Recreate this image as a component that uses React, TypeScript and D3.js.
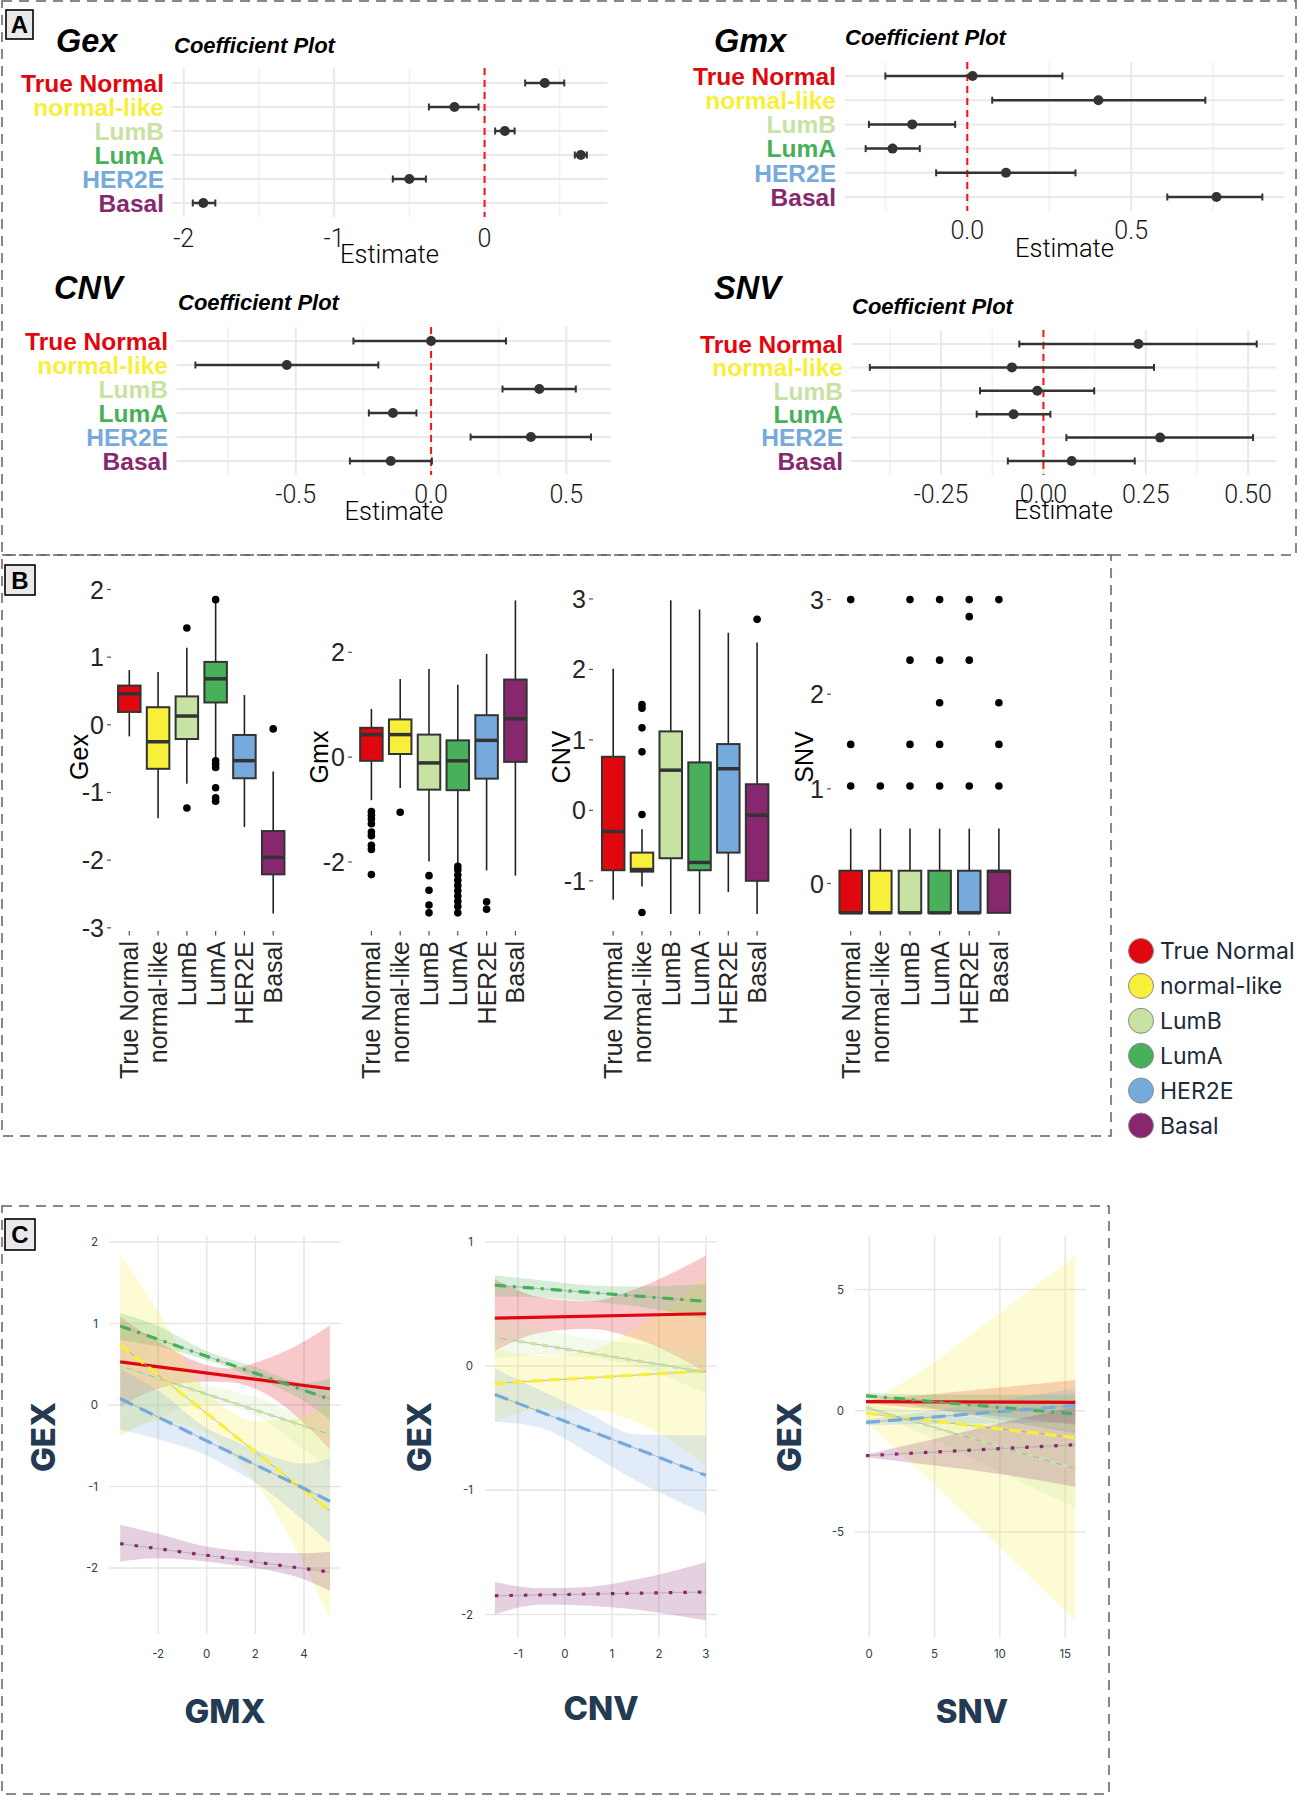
import React from 'react';
import * as d3 from 'd3';

const SUBTYPES = ['True Normal', 'normal-like', 'LumB', 'LumA', 'HER2E', 'Basal'];
const SUBTYPE_COLORS = ['#e0070f', '#f7ef3a', '#c8e2a4', '#48b05a', '#76aadd', '#87286e'];

// Panel A: coefficient per subtype, [estimate, lower, upper]
const COEF_GEX = [[0.40, 0.27, 0.53], [-0.20, -0.37, -0.04], [0.135, 0.07, 0.20], [0.64, 0.60, 0.68], [-0.50, -0.61, -0.39], [-1.87, -1.94, -1.79]];
const COEF_GMX = [[0.016, -0.25, 0.29], [0.40, 0.076, 0.726], [-0.168, -0.30, -0.037], [-0.228, -0.31, -0.145], [0.118, -0.095, 0.33], [0.76, 0.61, 0.90]];
const COEF_CNV = [[0.0, -0.287, 0.277], [-0.533, -0.871, -0.195], [0.40, 0.264, 0.535], [-0.141, -0.23, -0.054], [0.369, 0.146, 0.591], [-0.149, -0.30, 0.003]];
const COEF_SNV = [[0.232, -0.059, 0.521], [-0.077, -0.424, 0.27], [-0.015, -0.155, 0.124], [-0.073, -0.163, 0.017], [0.285, 0.056, 0.512], [0.069, -0.087, 0.223]];

const TICKS_A_GEX = [-2, -1, 0];
const LABELS_A_GEX = ['-2', '-1', '0'];
const MINOR_A_GEX = [-1.5, -0.5, 0.5];
const TICKS_A_GMX = [0, 0.5];
const LABELS_A_GMX = ['0.0', '0.5'];
const MINOR_A_GMX = [-0.25, 0.25, 0.75];
const TICKS_A_CNV = [-0.5, 0, 0.5];
const LABELS_A_CNV = ['-0.5', '0.0', '0.5'];
const MINOR_A_CNV = [-0.75, -0.25, 0.25];
const TICKS_A_SNV = [-0.25, 0, 0.25, 0.5];
const LABELS_A_SNV = ['-0.25', '0.00', '0.25', '0.50'];
const MINOR_A_SNV = [-0.375, -0.125, 0.125, 0.375];

// Panel B: [lower whisker, q1, median, q3, upper whisker]
const BOX_GEX = [[-0.17, 0.19, 0.46, 0.58, 0.81], [-1.38, -0.65, -0.25, 0.26, 0.78], [-0.87, -0.21, 0.13, 0.42, 1.14], [-0.50, 0.33, 0.68, 0.93, 1.83], [-1.51, -0.79, -0.53, -0.15, 0.44], [-2.79, -2.21, -1.96, -1.57, -0.69]];
const OUT_GEX = [[], [], [1.43, -1.23], [1.85, -0.53, -0.58, -0.63, -0.93, -1.08, -1.13], [], [-0.06]];
const BOX_GMX = [[-0.82, -0.07, 0.43, 0.56, 0.92], [-0.59, 0.06, 0.43, 0.72, 1.49], [-1.99, -0.62, -0.11, 0.43, 1.68], [-2.04, -0.63, -0.07, 0.32, 1.38], [-2.16, -0.41, 0.32, 0.80, 1.97], [-2.26, -0.09, 0.73, 1.48, 2.99]];
const OUT_GMX = [[-1.04, -1.11, -1.18, -1.27, -1.43, -1.5, -1.68, -1.76, -2.24], [-1.05], [-2.26, -2.54, -2.82, -2.97], [-2.08, -2.15, -2.25, -2.35, -2.45, -2.55, -2.65, -2.75, -2.85, -2.97], [-2.76, -2.9], []];
const BOX_CNV = [[-1.27, -0.85, -0.30, 0.76, 2.01], [-1.08, -0.87, -0.84, -0.60, -0.27], [-1.47, -0.68, 0.57, 1.12, 2.98], [-1.47, -0.85, -0.74, 0.68, 2.85], [-1.16, -0.60, 0.59, 0.94, 2.52], [-1.47, -1.00, -0.07, 0.37, 2.38]];
const OUT_CNV = [[], [1.5, 1.45, 1.17, 0.83, -0.06, -1.45], [], [], [], [2.71]];
const BOX_SNV = [[-0.31, -0.31, -0.31, 0.135, 0.58], [-0.31, -0.31, -0.31, 0.135, 0.58], [-0.31, -0.31, -0.31, 0.135, 0.58], [-0.31, -0.31, -0.31, 0.135, 0.58], [-0.31, -0.31, -0.31, 0.135, 0.58], [-0.31, -0.31, 0.127, 0.135, 0.58]];
const OUT_SNV = [[3.0, 1.47, 1.03], [1.03], [3.0, 2.36, 1.47, 1.03], [3.0, 2.36, 1.91, 1.47, 1.03], [3.0, 2.82, 2.36, 1.03], [3.0, 1.91, 1.47, 1.03]];

const TICKS_B_GEX = [-3, -2, -1, 0, 1, 2];
const TICKS_B_GMX = [-2, 0, 2];
const TICKS_B_CNV = [-1, 0, 1, 2, 3];
const TICKS_B_SNV = [0, 1, 2, 3];

// Panel C: fitted lines [value at start, value at end] and confidence bands
const GMX_X = [-3.56, 5.07];
const GMX_FIT = [[0.53, 0.20], [0.74, -1.30], [0.48, -0.36], [0.97, 0.07], [0.08, -1.18], [-1.70, -2.05]];
const GMX_BAND_X = [-3.56, -2, 0, 1, 2, 4, 5.07];
const GMX_LOW = [
  [-0.02, 0.20, 0.29, 0.28, 0.20, -0.22, -0.55],
  [-0.38, -0.20, -0.35, -0.60, -0.95, -1.95, -2.62],
  [-0.38, -0.15, 0.02, -0.02, -0.12, -0.55, -0.78],
  [0.80, 0.72, 0.55, 0.45, 0.33, 0.05, -0.18],
  [-0.30, -0.42, -0.62, -0.78, -0.95, -1.42, -1.70],
  [-1.92, -1.88, -1.92, -1.96, -2.00, -2.14, -2.28],
];
const GMX_HIGH = [
  [1.08, 0.78, 0.49, 0.45, 0.52, 0.78, 0.98],
  [1.86, 1.15, 0.15, -0.08, -0.20, -0.15, 0.02],
  [1.05, 0.65, 0.25, 0.18, 0.10, -0.10, 0.05],
  [1.13, 0.97, 0.66, 0.56, 0.47, 0.27, 0.33],
  [0.45, 0.18, -0.28, -0.42, -0.55, -0.72, -0.66],
  [-1.47, -1.58, -1.74, -1.78, -1.80, -1.82, -1.80],
];
const CNV_X = [-1.49, 3.0];
const CNV_FIT = [[0.385, 0.42], [-0.14, -0.04], [0.23, -0.05], [0.65, 0.52], [-0.23, -0.88], [-1.85, -1.82]];
const CNV_BAND_X = [-1.49, -0.5, 0.5, 1.5, 3.0];
const CNV_LOW = [
  [0.12, 0.27, 0.30, 0.22, -0.05],
  [-0.45, -0.35, -0.35, -0.45, -0.80],
  [0.06, 0.09, 0.07, 0.00, -0.22],
  [0.56, 0.55, 0.52, 0.48, 0.38],
  [-0.45, -0.50, -0.70, -0.92, -1.19],
  [-2.00, -1.92, -1.93, -1.96, -2.05],
];
const CNV_HIGH = [
  [0.70, 0.55, 0.52, 0.62, 0.89],
  [0.14, 0.08, 0.12, 0.30, 0.72],
  [0.40, 0.30, 0.22, 0.18, 0.12],
  [0.73, 0.69, 0.65, 0.64, 0.66],
  [-0.02, -0.20, -0.38, -0.55, -0.56],
  [-1.74, -1.79, -1.78, -1.72, -1.58],
];
const SNV_X = [-0.25, 15.77];
const SNV_FIT = [[0.38, 0.35], [-0.10, -1.11], [0.14, -2.39], [0.62, -0.13], [-0.48, 0.22], [-1.85, -1.40]];
const SNV_BAND_X = [-0.25, 5, 10, 15.77];
const SNV_LOW = [
  [0.30, 0.05, -0.24, -0.57],
  [-0.45, -3.04, -5.64, -8.65],
  [0.08, -1.20, -2.52, -4.00],
  [0.53, 0.10, -0.38, -0.93],
  [-0.60, -0.53, -0.52, -0.48],
  [-1.92, -2.26, -2.61, -3.13],
];
const SNV_HIGH = [
  [0.46, 0.69, 0.96, 1.27],
  [0.25, 2.02, 4.04, 6.40],
  [0.28, -0.10, -0.42, -0.80],
  [0.73, 0.66, 0.66, 0.67],
  [-0.36, 0.01, 0.44, 0.92],
  [-1.80, -1.16, -0.51, 0.17],
];
const LINE_DASH = ['', '12,6', '6,6', '11,7,3,7', '14,8', '3.5,11'];

const SANS = '"Liberation Sans", Arial, sans-serif';
const NAVY = '#233a52';

type CoefCfg = {
  name: string; data: number[][]; nameX: number; nameY: number; titleX: number; titleY: number;
  left: number; right: number; domain: [number, number]; rows: [number, number]; grid: [number, number];
  labelX: number; ticks: number[]; labels: string[]; minor: number[]; tickY: number; estY: number;
};

const COEF_LAYOUT: CoefCfg[] = [
  { name: 'Gex', data: COEF_GEX, nameX: 56, nameY: 52, titleX: 174, titleY: 53, left: 172, right: 607, domain: [-2.078, 0.814], rows: [83, 203], grid: [68, 217], labelX: 164, ticks: TICKS_A_GEX, labels: LABELS_A_GEX, minor: MINOR_A_GEX, tickY: 247, estY: 263 },
  { name: 'Gmx', data: COEF_GMX, nameX: 714, nameY: 52, titleX: 845, titleY: 45, left: 845, right: 1284, domain: [-0.373, 0.966], rows: [76, 197], grid: [62, 211], labelX: 836, ticks: TICKS_A_GMX, labels: LABELS_A_GMX, minor: MINOR_A_GMX, tickY: 239, estY: 257 },
  { name: 'CNV', data: COEF_CNV, nameX: 54, nameY: 299, titleX: 178, titleY: 310, left: 177, right: 611, domain: [-0.939, 0.665], rows: [341, 461], grid: [327, 475], labelX: 168, ticks: TICKS_A_CNV, labels: LABELS_A_CNV, minor: MINOR_A_CNV, tickY: 503, estY: 520 },
  { name: 'SNV', data: COEF_SNV, nameX: 714, nameY: 299, titleX: 852, titleY: 314, left: 851, right: 1276, domain: [-0.47, 0.568], rows: [344, 461], grid: [330, 475], labelX: 843, ticks: TICKS_A_SNV, labels: LABELS_A_SNV, minor: MINOR_A_SNV, tickY: 503, estY: 519 },
];

const CoefPlot: React.FC<{ cfg: CoefCfg }> = ({ cfg }) => {
  const x = d3.scaleLinear().domain(cfg.domain).range([cfg.left, cfg.right]);
  const y = d3.scalePoint<string>().domain(SUBTYPES).range(cfg.rows);
  const [g0, g1] = cfg.grid;
  return (
    <g>
      {cfg.minor.map(v => (
        <line key={'m' + v} x1={x(v)} x2={x(v)} y1={g0} y2={g1} stroke="#f1f1f1" strokeWidth={1.5} />
      ))}
      {cfg.ticks.map(v => (
        <line key={'t' + v} x1={x(v)} x2={x(v)} y1={g0} y2={g1} stroke="#e9e9e9" strokeWidth={2} />
      ))}
      {SUBTYPES.map(s => (
        <line key={'h' + s} x1={cfg.left} x2={cfg.right} y1={y(s)} y2={y(s)} stroke="#e9e9e9" strokeWidth={2} />
      ))}
      <line x1={x(0)} x2={x(0)} y1={g0} y2={g1} stroke="#ff1010" strokeWidth={2} strokeDasharray="7,5" />
      {cfg.data.map((d, i) => {
        const yy = y(SUBTYPES[i]) as number;
        return (
          <g key={i}>
            <line x1={x(d[1])} x2={x(d[2])} y1={yy} y2={yy} stroke="#333" strokeWidth={2.5} />
            <line x1={x(d[1])} x2={x(d[1])} y1={yy - 3.5} y2={yy + 3.5} stroke="#333" strokeWidth={2} />
            <line x1={x(d[2])} x2={x(d[2])} y1={yy - 3.5} y2={yy + 3.5} stroke="#333" strokeWidth={2} />
            <circle cx={x(d[0])} cy={yy} r={5} fill="#333" />
          </g>
        );
      })}
      {SUBTYPES.map((s, i) => (
        <text key={'l' + s} x={cfg.labelX} y={y(s)} dy="0.36em" textAnchor="end" fontFamily={SANS}
          fontWeight="bold" fontSize={24.5} fill={SUBTYPE_COLORS[i]}>{s}</text>
      ))}
      {cfg.ticks.map((v, i) => (
        <text key={'tl' + v} x={x(v)} y={cfg.tickY} textAnchor="middle" fontFamily="Roboto, sans-serif"
          fontWeight={300} fontSize={25} fill="#1a1a1a">{cfg.labels[i]}</text>
      ))}
      <text x={(cfg.left + cfg.right) / 2} y={cfg.estY} textAnchor="middle" fontFamily="Roboto, sans-serif"
        fontWeight={300} fontSize={25.5} fill="#000">Estimate</text>
      <text x={cfg.nameX} y={cfg.nameY} fontFamily={SANS} fontWeight="bold" fontStyle="italic" fontSize={32.5} fill="#000">{cfg.name}</text>
      <text x={cfg.titleX} y={cfg.titleY} fontFamily={SANS} fontWeight="bold" fontStyle="italic" fontSize={22} fill="#000">Coefficient Plot</text>
    </g>
  );
};

type BoxCfg = {
  name: string; boxes: number[][]; outliers: number[][]; ticks: number[];
  yDomain: [number, number]; yRange: [number, number]; xRange: [number, number];
  tickRight: number; ylabelX: number;
};

const BOX_LAYOUT: BoxCfg[] = [
  { name: 'Gex', boxes: BOX_GEX, outliers: OUT_GEX, ticks: TICKS_B_GEX, yDomain: [-3, 2], yRange: [927.8, 589.5], xRange: [129.3, 273.2], tickRight: 104, ylabelX: 87.5 },
  { name: 'Gmx', boxes: BOX_GMX, outliers: OUT_GMX, ticks: TICKS_B_GMX, yDomain: [-2, 2], yRange: [862, 652.3], xRange: [371.4, 515.4], tickRight: 345, ylabelX: 328 },
  { name: 'CNV', boxes: BOX_CNV, outliers: OUT_CNV, ticks: TICKS_B_CNV, yDomain: [-1, 3], yRange: [880.8, 598.9], xRange: [613.2, 757.1], tickRight: 586, ylabelX: 570 },
  { name: 'SNV', boxes: BOX_SNV, outliers: OUT_SNV, ticks: TICKS_B_SNV, yDomain: [0, 3], yRange: [883.5, 599.6], xRange: [850.7, 998.9], tickRight: 824, ylabelX: 813 },
];

const BoxPlot: React.FC<{ cfg: BoxCfg }> = ({ cfg }) => {
  const y = d3.scaleLinear().domain(cfg.yDomain).range(cfg.yRange);
  const x = d3.scalePoint<string>().domain(SUBTYPES).range(cfg.xRange);
  const bw = 22.5;
  return (
    <g>
      {cfg.ticks.map(v => (
        <g key={'t' + v}>
          <text x={cfg.tickRight} y={y(v)} dy="0.36em" textAnchor="end" fontFamily={SANS} fontSize={25} fill="#262626">{v}</text>
          <line x1={cfg.tickRight + 3} x2={cfg.tickRight + 7} y1={y(v)} y2={y(v)} stroke="#555" strokeWidth={1.2} />
        </g>
      ))}
      {cfg.boxes.map((b, i) => {
        const cx = x(SUBTYPES[i]) as number;
        return (
          <g key={i}>
            <line x1={cx} x2={cx} y1={y(b[3])} y2={y(b[4])} stroke="#222" strokeWidth={1.6} />
            <line x1={cx} x2={cx} y1={y(b[1])} y2={y(b[0])} stroke="#222" strokeWidth={1.6} />
            <rect x={cx - bw / 2} y={y(b[3])} width={bw} height={Math.max(0.5, y(b[1]) - y(b[3]))}
              fill={SUBTYPE_COLORS[i]} stroke="#333" strokeWidth={2} />
            <line x1={cx - bw / 2} x2={cx + bw / 2} y1={y(b[2])} y2={y(b[2])} stroke="#333" strokeWidth={3.5} />
            {cfg.outliers[i].map((o, j) => (
              <circle key={j} cx={cx} cy={y(o)} r={3.8} fill="#000" />
            ))}
            <line x1={cx} x2={cx} y1={931} y2={935.5} stroke="#555" strokeWidth={1.2} />
            <text transform={`translate(${cx},941) rotate(-90)`} textAnchor="end" dominantBaseline="central"
              fontFamily={SANS} fontSize={25} fill="#262626">{SUBTYPES[i]}</text>
          </g>
        );
      })}
      <text transform={`translate(${cfg.ylabelX},757) rotate(-90)`} textAnchor="middle" fontFamily={SANS}
        fontSize={25} fill="#000">{cfg.name}</text>
    </g>
  );
};

type FitCfg = {
  xlab: string; lineX: number[]; fit: number[][]; bandX: number[]; low: number[][]; high: number[][];
  xDomain: [number, number]; xRange: [number, number]; yDomain: [number, number]; yRange: [number, number];
  xTicks: number[]; yTicks: number[]; yTickRight: number; ylabX: number; xlabX: number; xlabY: number;
};

const FIT_LAYOUT: FitCfg[] = [
  { xlab: 'GMX', lineX: GMX_X, fit: GMX_FIT, bandX: GMX_BAND_X, low: GMX_LOW, high: GMX_HIGH, xDomain: [-4.02, 5.51], xRange: [109, 340.7], yDomain: [-2.81, 2.08], yRange: [1634, 1235.6], xTicks: [-2, 0, 2, 4], yTicks: [-2, -1, 0, 1, 2], yTickRight: 98, ylabX: 55, xlabX: 225, xlabY: 1723 },
  { xlab: 'CNV', lineX: CNV_X, fit: CNV_FIT, bandX: CNV_BAND_X, low: CNV_LOW, high: CNV_HIGH, xDomain: [-1.70, 3.23], xRange: [485, 716.7], yDomain: [-2.19, 1.046], yRange: [1638, 1236], xTicks: [-1, 0, 1, 2, 3], yTicks: [-2, -1, 0, 1], yTickRight: 473, ylabX: 431, xlabX: 601, xlabY: 1720 },
  { xlab: 'SNV', lineX: SNV_X, fit: SNV_FIT, bandX: SNV_BAND_X, low: SNV_LOW, high: SNV_HIGH, xDomain: [-1.09, 16.59], xRange: [855, 1086], yDomain: [-9.37, 7.21], yRange: [1638, 1236], xTicks: [0, 5, 10, 15], yTicks: [-5, 0, 5], yTickRight: 844, ylabX: 801, xlabX: 972, xlabY: 1723 },
];

const FitPlot: React.FC<{ cfg: FitCfg }> = ({ cfg }) => {
  const x = d3.scaleLinear().domain(cfg.xDomain).range(cfg.xRange);
  const y = d3.scaleLinear().domain(cfg.yDomain).range(cfg.yRange);
  const area = d3.area<number>()
    .x((_, j) => x(cfg.bandX[j]))
    .curve(d3.curveMonotoneX);
  const line = d3.line<number>().x((_, j) => x(cfg.lineX[j])).y(v => y(v));
  return (
    <g>
      {cfg.yTicks.map(v => (
        <g key={'y' + v}>
          <line x1={cfg.xRange[0]} x2={cfg.xRange[1]} y1={y(v)} y2={y(v)} stroke="#e6e6e6" strokeWidth={1.5} />
          <text x={cfg.yTickRight} y={y(v)} dy="0.36em" textAnchor="end" fontFamily="Inter, sans-serif"
            fontSize={11.5} fill="#2c3e50">{v}</text>
        </g>
      ))}
      {cfg.xTicks.map(v => (
        <g key={'x' + v}>
          <line x1={x(v)} x2={x(v)} y1={cfg.yRange[0]} y2={cfg.yRange[1]} stroke="#e6e6e6" strokeWidth={1.5} />
          <text x={x(v)} y={1658} textAnchor="middle" fontFamily="Inter, sans-serif" fontSize={11.5} fill="#2c3e50">{v}</text>
        </g>
      ))}
      {cfg.low.map((lo, i) => (
        <path key={'r' + i}
          d={area.y0((_, j) => y(lo[j])).y1((_, j) => y(cfg.high[i][j]))(lo) || ''}
          fill={SUBTYPE_COLORS[i]} fillOpacity={0.22} />
      ))}
      {cfg.fit.map((f, i) => (
        <g key={'f' + i}>
          <path d={line(f) || ''} stroke="#a8a8a8" strokeWidth={0.8} fill="none" />
          <path d={line(f) || ''} stroke={SUBTYPE_COLORS[i]} strokeWidth={3.2} fill="none"
            strokeDasharray={LINE_DASH[i] || undefined} />
        </g>
      ))}
      <text transform={`translate(${cfg.ylabX},1437) rotate(-90)`} textAnchor="middle" fontFamily="Inter, sans-serif"
        fontWeight={800} fontSize={33} fill={NAVY}>GEX</text>
      <text x={cfg.xlabX} y={cfg.xlabY} textAnchor="middle" fontFamily="Inter, sans-serif"
        fontWeight={800} fontSize={33} fill={NAVY}>{cfg.xlab}</text>
    </g>
  );
};

const PanelTag: React.FC<{ x: number; y: number; w: number; h: number; label: string }> = ({ x, y, w, h, label }) => (
  <g>
    <rect x={x} y={y} width={w} height={h} fill="#e9e9e9" stroke="#000" strokeWidth={1.6} />
    <text x={x + w / 2} y={y + h / 2} dy="0.36em" textAnchor="middle" fontFamily={SANS} fontWeight="bold"
      fontSize={24} fill="#000">{label}</text>
  </g>
);

const BORDER = { stroke: '#6e5c5c', strokeWidth: 1.5, strokeDasharray: '10,7', fill: 'none' };

export default function App() {
  return (
    <svg width={1299} height={1796} style={{ position: 'absolute', left: 0, top: 0, background: '#fff' }}>
      <rect x={0} y={0} width={1299} height={1796} fill="#fff" />
      {/* Panel A */}
      <rect x={2} y={1} width={1294} height={554} {...BORDER} />
      <PanelTag x={6} y={10} w={27} h={29} label="A" />
      {COEF_LAYOUT.map(c => <CoefPlot key={c.name} cfg={c} />)}

      {/* Panel B */}
      <rect x={2} y={555} width={1109} height={581} {...BORDER} />
      <PanelTag x={5} y={565} w={30} h={30} label="B" />
      {BOX_LAYOUT.map(c => <BoxPlot key={c.name} cfg={c} />)}
      {SUBTYPES.map((s, i) => (
        <g key={'lg' + s}>
          <circle cx={1141} cy={951 + i * 34.9} r={12.5} fill={SUBTYPE_COLORS[i]} stroke="#8a8a8a" strokeWidth={1} />
          <text x={1160} y={951 + i * 34.9} dy="0.36em" fontFamily="Inter, sans-serif" fontSize={23} fill="#1c2a3a">{s}</text>
        </g>
      ))}

      {/* Panel C */}
      <rect x={2} y={1206} width={1107} height={588} {...BORDER} />
      <PanelTag x={5} y={1219} w={30} h={31} label="C" />
      {FIT_LAYOUT.map(c => <FitPlot key={c.xlab} cfg={c} />)}
    </svg>
  );
}
